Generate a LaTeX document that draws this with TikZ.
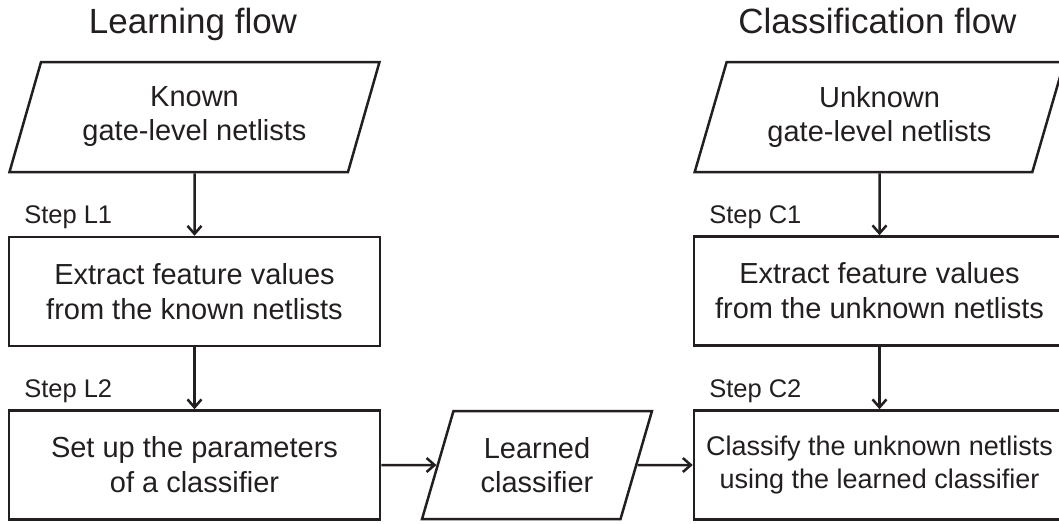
\documentclass[tikz,border=0pt]{standalone}
\usepackage{fontspec}
\setmainfont{Liberation Sans}
\usetikzlibrary{shapes.geometric,arrows.meta}
\definecolor{ink}{RGB}{35,31,32}
\tikzset{
  stepbox/.style={draw=ink, line width=2.5pt, rectangle, minimum width=371pt, minimum height=109pt,
    align=center, inner sep=0pt, text=ink, font=\fontsize{29}{35}\selectfont},
  iobox/.style={draw=ink, line width=2.5pt, trapezium, trapezium left angle=69, trapezium right angle=111,
    trapezium stretches=true, align=center, inner sep=0pt, text=ink, font=\fontsize{29}{34}\selectfont},
  title/.style={anchor=base, text=ink, font=\fontsize{35}{42}\selectfont},
  steplabel/.style={anchor=base west, text=ink, font=\fontsize{25.5}{30}\selectfont},
  arr/.style={draw=ink, line width=2.5pt, -{Straight Barb[length=8pt,width=14pt]}}
}
\begin{document}
\begin{tikzpicture}[x=1pt,y=-1pt]
\useasboundingbox (0,0) rectangle (1059,523);
\clip (0,0) rectangle (1059,523);
% titles
\node[title] (t1) at (193,33) {Learning flow};
\node[title] (t2) at (877.5,33) {Classification flow};
% learning flow
\node[iobox, minimum width=371pt, minimum height=110pt] (K) at (194.5,117) {Known\\gate-level netlists};
\node[stepbox] (L1) at (194.5,291.5) {Extract feature values\\from the known netlists};
\node[stepbox] (L2) at (194.5,465) {Set up the parameters\\of a classifier};
% learned classifier
\node[iobox, minimum width=230pt, minimum height=108pt] (LC) at (537,465) {Learned\\classifier};
% classification flow
\node[iobox, minimum width=371pt, minimum height=110pt] (U) at (879.5,117) {Unknown\\gate-level netlists};
\node[stepbox] (C1) at (879.5,291) {Extract feature values\\from the unknown netlists};
\node[stepbox, font=\fontsize{27}{33}\selectfont] (C2) at (879.5,465) {Classify the unknown netlists\\using the learned classifier};
% step labels
\node[steplabel] (sL1) at ([xshift=13pt,yshift=12pt]L1.north west) {Step L1};
\node[steplabel] (sL2) at ([xshift=13pt,yshift=12pt]L2.north west) {Step L2};
\node[steplabel] (sC1) at ([xshift=13pt,yshift=12pt]C1.north west) {Step C1};
\node[steplabel] (sC2) at ([xshift=13pt,yshift=12pt]C2.north west) {Step C2};
% connectors
\draw[arr] (K) -- (L1);
\draw[arr] (L1) -- (L2);
\draw[arr] (L2) -- (LC);
\draw[arr] (LC) -- (C2);
\draw[arr] (U) -- (C1);
\draw[arr] (C1) -- (C2);
\end{tikzpicture}
\end{document}
